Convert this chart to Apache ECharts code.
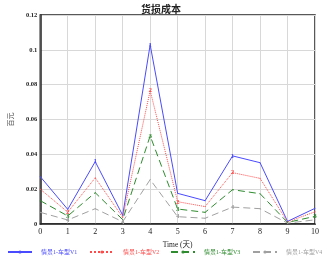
<!DOCTYPE html>
<html><head><meta charset="utf-8">
<script src="https://cdn.jsdelivr.net/npm/echarts@6/dist/echarts.min.js"></script>
<style>html,body{margin:0;padding:0;background:#fff}#c{width:322px;height:261px}</style>
</head><body><div id="c"></div>
<script>
const days = [0,1,2,3,4,5,6,7,8,9,10];
const v1 = [0.0272,0.0084,0.0358,0.0050,0.1029,0.0176,0.0134,0.0391,0.0352,0.0015,0.0090];
const v2 = [0.0200,0.0068,0.0265,0.0038,0.0766,0.0128,0.0100,0.0295,0.0262,0.0012,0.0070];
const v3 = [0.0134,0.0046,0.0180,0.0025,0.0506,0.0086,0.0067,0.0197,0.0174,0.0009,0.0044];
const v4 = [0.0067,0.0023,0.0088,0.0013,0.0255,0.0042,0.0033,0.0097,0.0088,0.0005,0.0024];
const names = ['情景1-车型V1','情景1-车型V2','情景1-车型V3','情景1-车型V4'];
const markIdx = [[2,4,7],[1,4,5,7],[1,4,5,10],[1,3,5,7]];

const colors = ['#4a4aff','#ff4a4a','#2e8b2e','#a0a0a0'];
const types = ['solid','dotted',[7,4],[7,4]];
const legendLeft = [2,84,165,247];
const font = 'Liberation Serif, "Noto Sans CJK SC", serif';
const all = [v1,v2,v3,v4];

const chart = echarts.init(document.getElementById('c'), null, {renderer:'canvas'});
chart.setOption({
  animation:false,
  title:{text:'货损成本',left:'center',top:0,textStyle:{fontFamily:font,fontSize:10,fontWeight:'bold',color:'#222'}},
  grid:{left:25,right:6,top:15,bottom:37,show:true,borderColor:'#222',borderWidth:1.5},
  xAxis:{type:'value',min:0,max:10,interval:1,name:'Time (天)',nameLocation:'middle',nameGap:16,
    nameTextStyle:{fontFamily:font,fontSize:7.5,color:'#222'},
    axisLine:{onZero:false,lineStyle:{color:'#222',width:1.5}},axisTick:{show:false},
    axisLabel:{fontFamily:font,fontSize:8,color:'#222',margin:4},
    splitLine:{lineStyle:{color:'#d8d8d8',width:1}}},
  yAxis:{type:'value',min:0,max:0.12,interval:0.02,name:'百元',nameLocation:'middle',nameGap:14,nameRotate:90,
    nameTextStyle:{fontFamily:font,fontSize:7,color:'#444'},
    axisLine:{show:true,onZero:false,lineStyle:{color:'#222',width:1.5}},axisTick:{show:false},
    axisLabel:{fontFamily:font,fontSize:6.5,color:'#222',margin:3,fontWeight:'bold',formatter:v=>String(+(+v).toFixed(2))},
    splitLine:{lineStyle:{color:'#d8d8d8',width:1}}},
  legend: names.map((n,i)=>({left:legendLeft[i],bottom:1,itemWidth:24,itemHeight:4,
    data:[{name:n,textStyle:{color:colors[i]}}],
    textStyle:{fontFamily:font,fontSize:6,padding:[0,0,0,4]}})),
  series: all.map((arr,i)=>({
    name:names[i],type:'line',
    symbol:'circle',symbolSize:1,showSymbol:true,
    itemStyle:{color:colors[i]},
    lineStyle:{color:colors[i],width:1,type:types[i]},
    data: arr.map((v,j)=>{
      const d={value:[days[j],v]};
      if(markIdx[i].includes(j)) d.label={show:true,position:'inside',formatter:String(i+1),color:colors[i],fontSize:7,fontFamily:font,fontWeight:'bold'};
      return d;
    })
  }))
});
</script></body></html>
